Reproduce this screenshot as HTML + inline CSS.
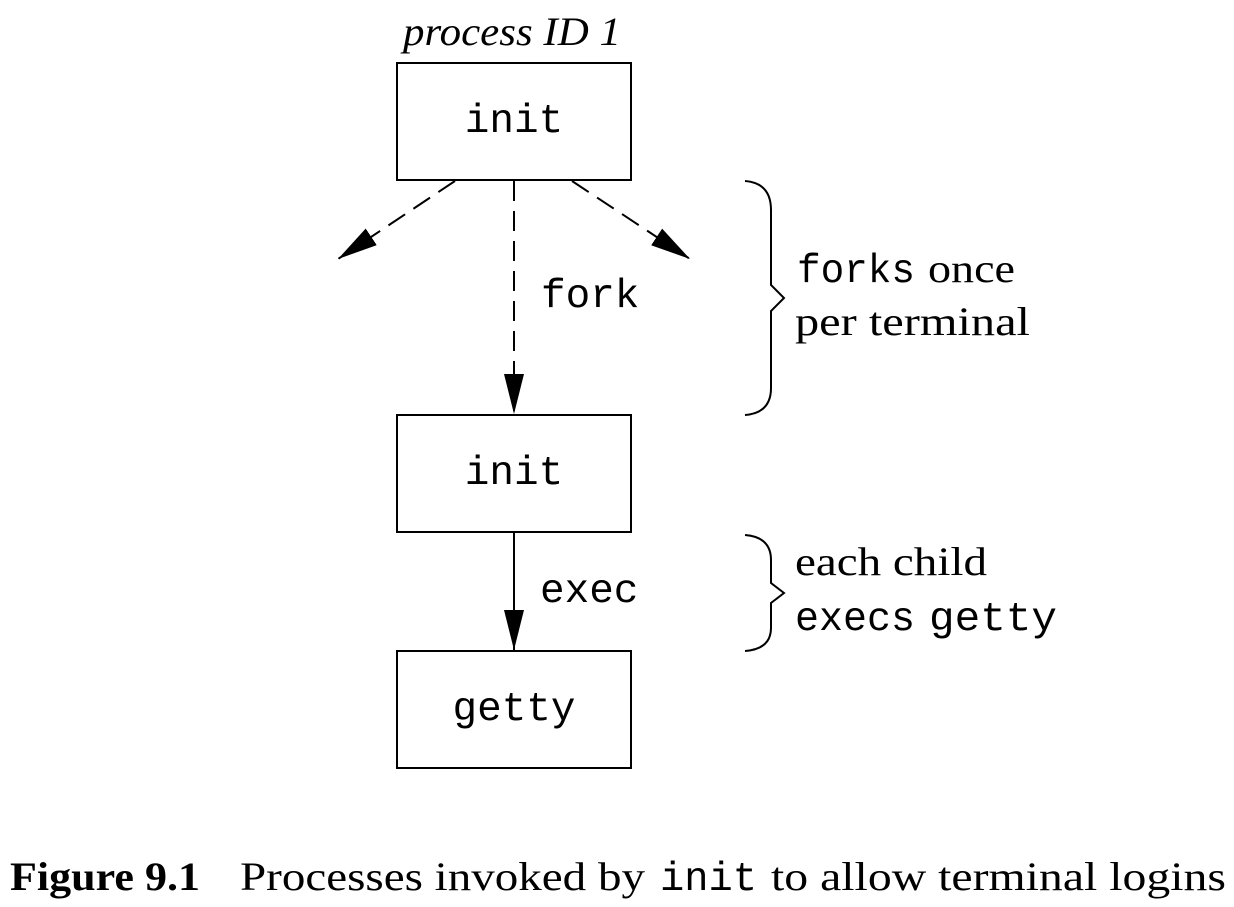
<!DOCTYPE html>
<html><head><meta charset="utf-8"><style>
html,body{margin:0;padding:0;background:#fff;}
svg{display:block;}
.m{font-family:"Liberation Mono",monospace;font-size:41px;}
.s{font-family:"Liberation Serif",serif;font-size:40px;}
</style></head><body>
<svg width="1234" height="907" viewBox="0 0 1234 907" xmlns="http://www.w3.org/2000/svg">
<defs>
<marker id="ah" markerWidth="40" markerHeight="20" refX="40" refY="10" orient="auto" markerUnits="userSpaceOnUse">
<path d="M0,0 L40,10 L0,20 Z" fill="#000"/>
</marker>
</defs>
<g fill="none" stroke="#000" stroke-width="2">
<rect x="397" y="63" width="234" height="117"/>
<rect x="397" y="415" width="234" height="117"/>
<rect x="397" y="651" width="234" height="117"/>
<line x1="514" y1="181" x2="514" y2="414" stroke-dasharray="20,10" marker-end="url(#ah)"/>
<line x1="455" y1="181" x2="338" y2="259" stroke-dasharray="20,10" marker-end="url(#ah)"/>
<line x1="572" y1="181" x2="690" y2="259" stroke-dasharray="20,10" marker-end="url(#ah)"/>
<line x1="514" y1="533" x2="514" y2="650" marker-end="url(#ah)"/>
<path d="M745,181 Q771,183 771,210 L771,285 L784,298 L771,311 L771,388 Q771,413 745,415"/>
<path d="M745,535 Q771,537 771,560 L771,583 L784,593 L771,603 L771,628 Q771,649 745,651"/>
</g>
<text x="512" y="45" text-anchor="middle" class="s" font-style="italic" textLength="218" lengthAdjust="spacingAndGlyphs">process ID 1</text>
<text x="514" y="132" text-anchor="middle" class="m">init</text>
<text x="514" y="484" text-anchor="middle" class="m">init</text>
<text x="514" y="720" text-anchor="middle" class="m">getty</text>
<text x="541" y="307" class="m">fork</text>
<text x="540" y="602" class="m">exec</text>
<text x="797" y="282" class="m" textLength="118" lengthAdjust="spacingAndGlyphs">forks</text>
<text x="928" y="282" class="s" textLength="87" lengthAdjust="spacingAndGlyphs">once</text>
<text x="795" y="335" class="s" textLength="235" lengthAdjust="spacingAndGlyphs">per terminal</text>
<text x="795" y="575" class="s" textLength="192" lengthAdjust="spacingAndGlyphs">each child</text>
<text x="795" y="630" class="m" textLength="120" lengthAdjust="spacingAndGlyphs">execs</text>
<text x="929" y="630" class="m" textLength="128" lengthAdjust="spacingAndGlyphs">getty</text>
<text x="10" y="890" class="s" font-weight="bold" textLength="190" lengthAdjust="spacingAndGlyphs">Figure 9.1</text>
<text x="240" y="890" class="s" textLength="405" lengthAdjust="spacingAndGlyphs">Processes invoked by</text>
<text x="660" y="890" class="m" textLength="97" lengthAdjust="spacingAndGlyphs">init</text>
<text x="771" y="890" class="s" textLength="455" lengthAdjust="spacingAndGlyphs">to allow terminal logins</text>
</svg>
</body></html>
